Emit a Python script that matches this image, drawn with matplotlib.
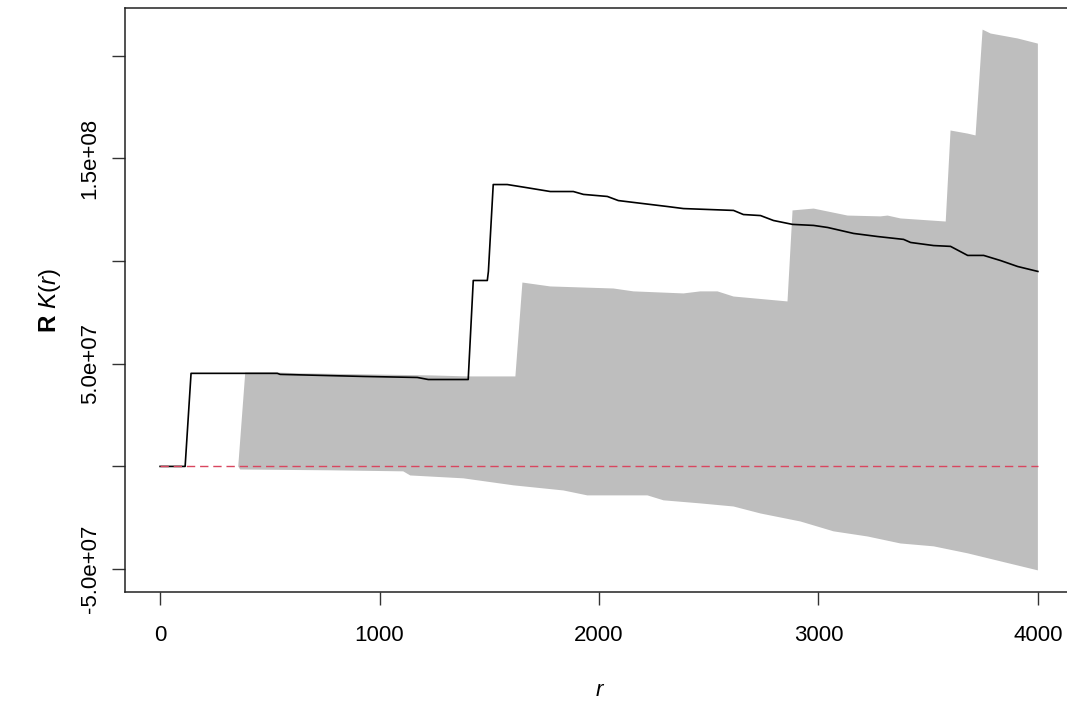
import numpy as np
import matplotlib
matplotlib.use('Agg')
import matplotlib.pyplot as plt

obs_r = [0, 114, 141, 534, 547, 926, 1172, 1222, 1404, 1427, 1491, 1496, 1518,
         1582, 1664, 1778, 1883, 1929, 2038, 2088, 2157, 2312, 2385, 2613, 2658,
         2736, 2795, 2882, 2978, 3042, 3160, 3269, 3388, 3420, 3525, 3602, 3680,
         3753, 3830, 3908, 4000]
obs_k = [0, 0, 45.3, 45.3, 44.8, 43.8, 43.3, 42.3, 42.3, 90.5, 90.5, 94.9, 137.2,
         137.2, 135.8, 133.8, 133.8, 132.4, 131.4, 129.4, 128.5, 126.5, 125.5, 124.6,
         122.6, 122.1, 119.7, 117.8, 117.3, 116.3, 113.4, 111.9, 110.5, 109.0, 107.5,
         107.1, 102.7, 102.7, 100.2, 97.3, 94.9]

# upper envelope
hi_r = [356, 388, 534, 638, 1231, 1404, 1619, 1651, 1778, 2066, 2157, 2385, 2462,
        2540, 2613, 2859, 2882, 2978, 3133, 3283, 3315, 3374, 3580, 3602, 3680,
        3716, 3748, 3785, 3908, 4000]
hi_k = [0, 45.7, 45.7, 45.3, 44.3, 43.8, 43.8, 89.5, 87.6, 86.6, 85.2, 84.2, 85.2,
        85.2, 82.7, 80.3, 124.6, 125.5, 122.1, 121.7, 122.1, 120.7, 119.2, 163.5,
        162.0, 161.1, 212.6, 210.7, 208.3, 205.8]

# lower envelope
lo_r = [356, 365, 775, 1108, 1140, 1382, 1610, 1838, 1947, 2221, 2294, 2462, 2613,
        2736, 2918, 3069, 3224, 3374, 3525, 3680, 3830, 4000]
lo_k = [0, -1.5, -1.9, -2.4, -4.4, -5.8, -9.2, -11.7, -14.1, -14.1, -16.5, -18.0,
        -19.5, -22.9, -26.8, -31.6, -34.1, -37.5, -38.9, -42.3, -46.2, -50.6]

# theoretical K(r) (zero line)
theo_r = [0, 4000]
theo_k = [0, 0]

y_ticks = [-5e7, 0, 5e7, 1e8, 1.5e8, 2e8]
y_labels = ['-5.0e+07', '', '5.0e+07', '', '1.5e+08', '']
x_ticks = [0, 1000, 2000, 3000, 4000]

plt.rcParams['font.family'] = ['Liberation Sans', 'DejaVu Sans']
plt.rcParams['mathtext.fontset'] = 'custom'
plt.rcParams['mathtext.rm'] = 'Liberation Sans'
plt.rcParams['mathtext.it'] = 'Liberation Sans:italic'
plt.rcParams['mathtext.bf'] = 'Liberation Sans:bold'

W, H = 1067, 702
fig = plt.figure(figsize=(W / 100, H / 100), dpi=100)
ax = fig.add_axes([125 / W, (H - 592) / H, (1073 - 125) / W, (592 - 8) / H])

sc = 1e6
env_x = np.concatenate([hi_r, lo_r[::-1]])
env_y = np.concatenate([hi_k, lo_k[::-1]]) * sc
ax.fill(env_x, env_y, color='#bebebe', lw=0)
ax.plot(obs_r, np.array(obs_k) * sc, color='black', lw=1.2)
ax.plot(theo_r, np.array(theo_k) * sc, color='#D9465F', lw=1.0, dashes=(6, 3.5))

ax.margins(0.04)
ax.set_xticks(x_ticks)
ax.set_xticklabels([str(v) for v in x_ticks])
ax.set_yticks(y_ticks)
ax.set_yticklabels(y_labels, rotation=90, va='center')

ax.tick_params(axis='both', length=9.5, width=1, labelsize=16, color='#333333')
ax.tick_params(axis='x', pad=14)
ax.tick_params(axis='y', pad=8)
for s in ax.spines.values():
    s.set_linewidth(1.1)
    s.set_color('#222222')

ax.set_xlabel('r', fontstyle='italic', fontsize=16, labelpad=25)
ax.set_ylabel(r'$\mathbf{R}$ $K(r)$', fontsize=17.5, labelpad=12)

fig.savefig('out.png', dpi=100)
